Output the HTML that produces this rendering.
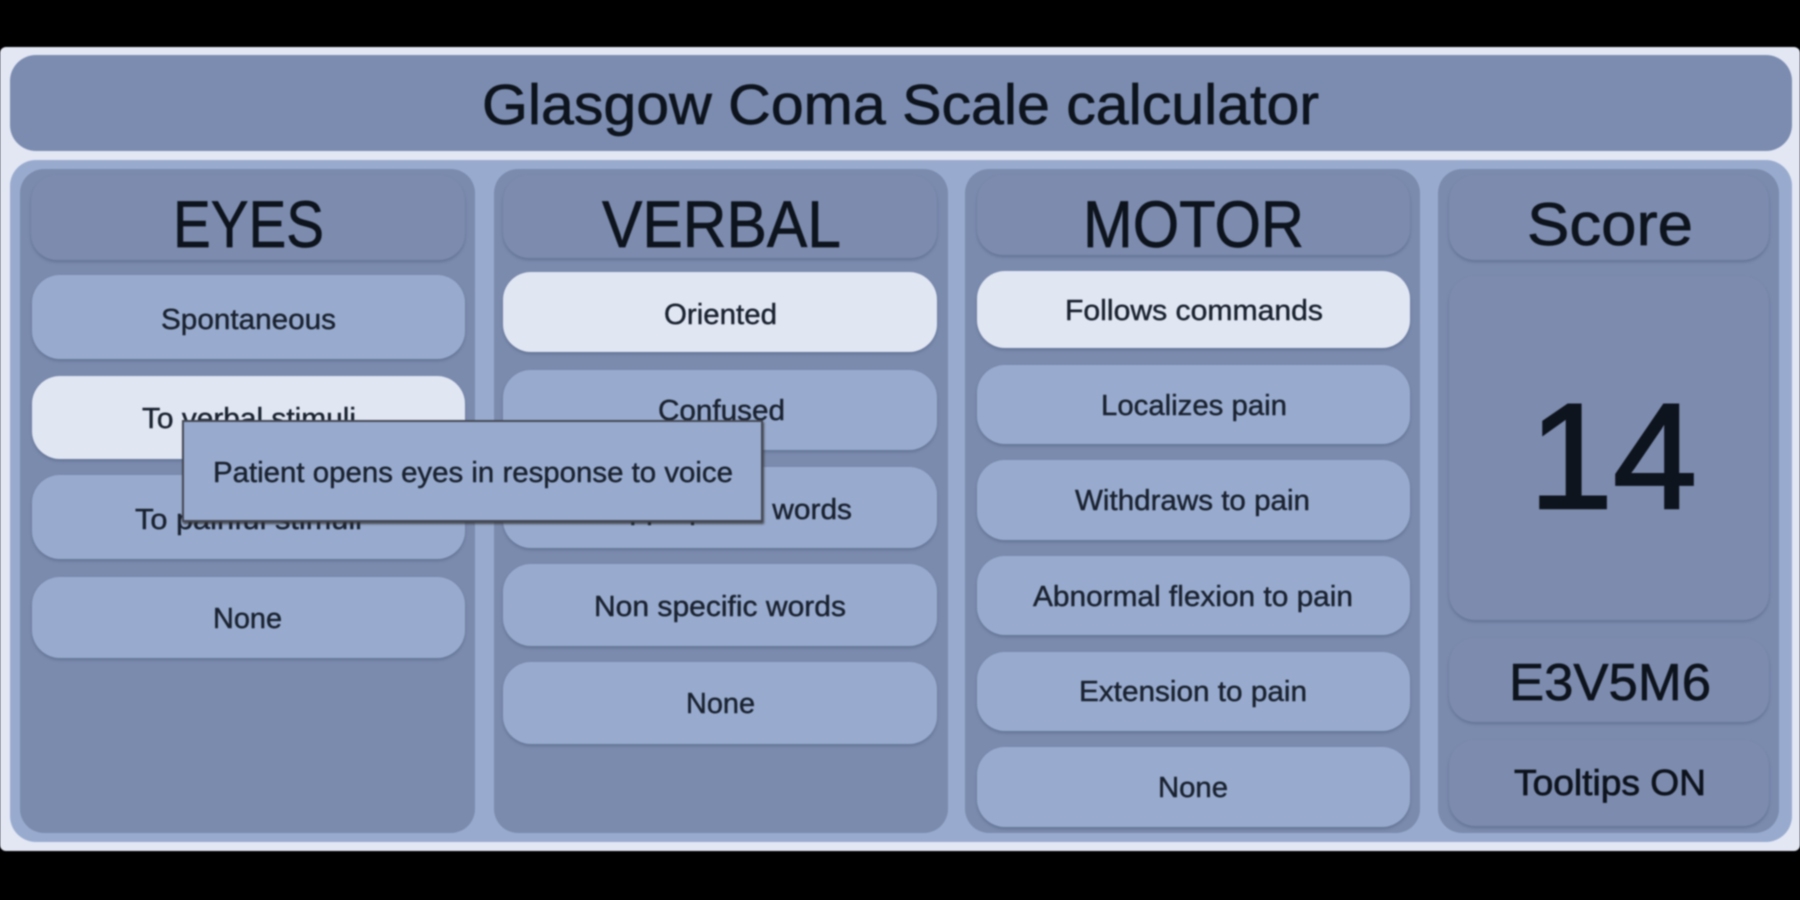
<!DOCTYPE html>
<html><head><meta charset="utf-8"><style>
html,body{margin:0;padding:0;background:#000;width:1800px;height:900px;overflow:hidden}
svg{display:block;filter:blur(.8px)}
text{font-family:"Liberation Sans",sans-serif;fill:#0e141d;text-anchor:start;stroke:#0e141d;stroke-width:.7px}
.b{font-size:29px;fill:#1a2230;stroke:#1a2230;stroke-width:.45px}
</style></head><body>
<svg width="1800" height="900" viewBox="0 0 1800 900" xmlns="http://www.w3.org/2000/svg">
<defs>
<filter id="s" x="-5%" y="-10%" width="110%" height="125%"><feDropShadow dx="0" dy="2" stdDeviation="1.5" flood-color="#5f6f92" flood-opacity=".9"/></filter>
<filter id="t" x="-5%" y="-10%" width="110%" height="125%"><feDropShadow dx="1" dy="2" stdDeviation="1" flood-color="#333" flood-opacity=".8"/></filter>
</defs>
<rect width="1800" height="900" fill="#000"/>
<rect x="0" y="47" width="1800" height="804" rx="6" fill="#e3e7f4"/>
<rect x="10" y="55" width="1782" height="96" rx="26" fill="#7b8cb0"/>
<rect x="10" y="160" width="1782" height="682" rx="26" fill="#98abce"/>
<!-- columns -->
<rect x="20" y="169" width="455" height="664" rx="24" fill="#7b8bae"/>
<rect x="494" y="169" width="454" height="664" rx="24" fill="#7b8bae"/>
<rect x="965" y="169" width="455" height="664" rx="24" fill="#7b8bae"/>
<rect x="1438" y="169" width="341" height="664" rx="24" fill="#7b8bae"/>
<!-- headers -->
<g fill="#7b8bae" filter="url(#s)">
<rect x="31" y="175" width="434" height="85" rx="26"/>
<rect x="503" y="175" width="434" height="83" rx="26"/>
<rect x="977" y="175" width="433" height="80" rx="26"/>
<rect x="1449" y="175" width="320" height="85" rx="26"/>
<rect x="1449" y="276" width="320" height="344" rx="26"/>
<rect x="1449" y="638" width="320" height="84" rx="26"/>
<rect x="1449" y="740" width="320" height="86" rx="26"/>
</g>
<!-- buttons -->
<g fill="#98abce" filter="url(#s)">
<rect x="32" y="275" width="433" height="84" rx="28"/>
<rect x="32" y="376" width="433" height="83" rx="28" fill="#e1e6f3"/>
<rect x="32" y="475" width="433" height="84" rx="28"/>
<rect x="32" y="577" width="433" height="81" rx="28"/>
<rect x="503" y="272" width="434" height="80" rx="28" fill="#e1e6f3"/>
<rect x="503" y="370" width="434" height="80" rx="28"/>
<rect x="503" y="467" width="434" height="81" rx="28"/>
<rect x="503" y="564" width="434" height="82" rx="28"/>
<rect x="503" y="662" width="434" height="82" rx="28"/>
<rect x="977" y="271" width="433" height="77" rx="28" fill="#e1e6f3"/>
<rect x="977" y="365" width="433" height="79" rx="28"/>
<rect x="977" y="460" width="433" height="80" rx="28"/>
<rect x="977" y="556" width="433" height="79" rx="28"/>
<rect x="977" y="652" width="433" height="79" rx="28"/>
<rect x="977" y="747" width="433" height="80" rx="28"/>
</g>
<!-- large text -->
<text x="482" y="124" font-size="57" textLength="837" lengthAdjust="spacingAndGlyphs">Glasgow Coma Scale calculator</text>
<text x="173" y="247" font-size="66" textLength="151" lengthAdjust="spacingAndGlyphs">EYES</text>
<text x="602" y="247" font-size="66" textLength="239" lengthAdjust="spacingAndGlyphs">VERBAL</text>
<text x="1083" y="247" font-size="66" textLength="221" lengthAdjust="spacingAndGlyphs">MOTOR</text>
<text x="1527" y="245" font-size="60" textLength="166" lengthAdjust="spacingAndGlyphs">Score</text>
<text x="1529" y="508" font-size="150" textLength="168" lengthAdjust="spacingAndGlyphs" style="stroke-width:2.5px">14</text>
<text x="1509" y="700" font-size="52" textLength="202" lengthAdjust="spacingAndGlyphs">E3V5M6</text>
<text x="1514" y="795" font-size="36" textLength="192" lengthAdjust="spacingAndGlyphs">Tooltips ON</text>
<!-- button text -->
<text class="b" x="161" y="329" textLength="175" lengthAdjust="spacingAndGlyphs">Spontaneous</text>
<text class="b" x="142" y="428" textLength="214" lengthAdjust="spacingAndGlyphs">To verbal stimuli</text>
<text class="b" x="135" y="529" textLength="227" lengthAdjust="spacingAndGlyphs">To painful stimuli</text>
<text class="b" x="213" y="628" textLength="69" lengthAdjust="spacingAndGlyphs">None</text>
<text class="b" x="664" y="324" textLength="113" lengthAdjust="spacingAndGlyphs">Oriented</text>
<text class="b" x="658" y="420" textLength="127" lengthAdjust="spacingAndGlyphs">Confused</text>
<text class="b" x="588" y="519" textLength="264" lengthAdjust="spacingAndGlyphs">Inappropriate words</text>
<text class="b" x="594" y="616" textLength="252" lengthAdjust="spacingAndGlyphs">Non specific words</text>
<text class="b" x="686" y="713" textLength="69" lengthAdjust="spacingAndGlyphs">None</text>
<text class="b" x="1065" y="320" textLength="258" lengthAdjust="spacingAndGlyphs">Follows commands</text>
<text class="b" x="1101" y="415" textLength="186" lengthAdjust="spacingAndGlyphs">Localizes pain</text>
<text class="b" x="1075" y="510" textLength="235" lengthAdjust="spacingAndGlyphs">Withdraws to pain</text>
<text class="b" x="1033" y="606" textLength="320" lengthAdjust="spacingAndGlyphs">Abnormal flexion to pain</text>
<text class="b" x="1079" y="701" textLength="228" lengthAdjust="spacingAndGlyphs">Extension to pain</text>
<text class="b" x="1158" y="797" textLength="70" lengthAdjust="spacingAndGlyphs">None</text>
<!-- tooltip -->
<rect x="183" y="421" width="579" height="100" fill="#98abce" stroke="#454a56" stroke-width="2" filter="url(#t)"/>
<text class="b" x="213" y="482" textLength="520" lengthAdjust="spacingAndGlyphs">Patient opens eyes in response to voice</text>
</svg>
</body></html>
